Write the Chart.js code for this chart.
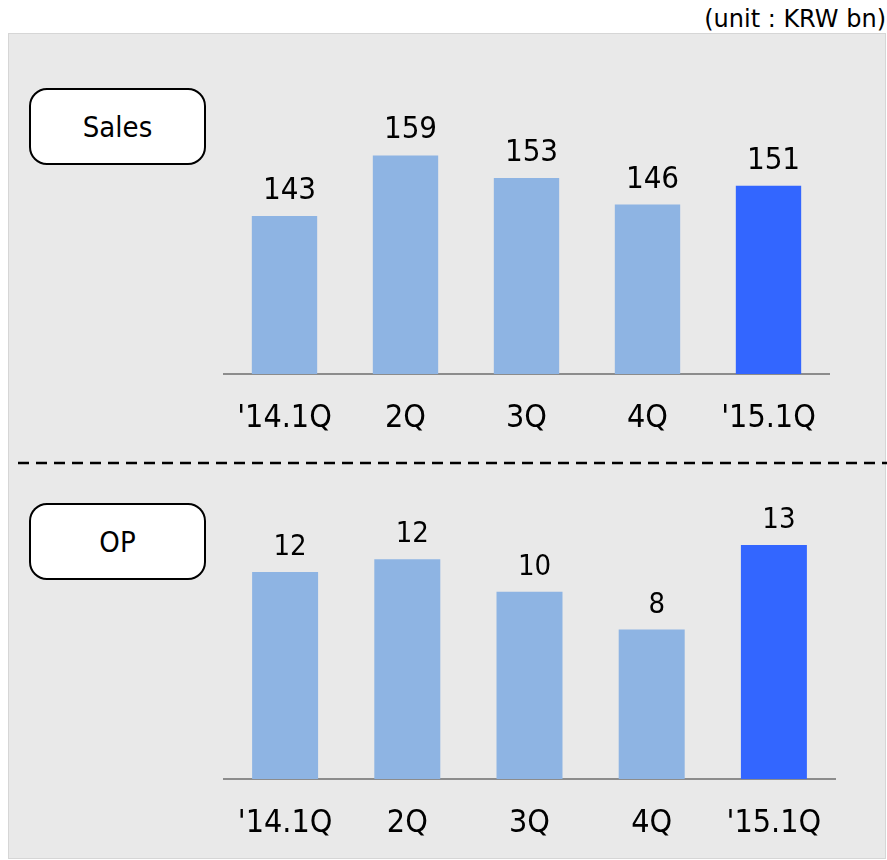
<!DOCTYPE html>
<html>
<head>
<meta charset="utf-8">
<script src="https://cdn.jsdelivr.net/npm/chart.js@4.4.1/dist/chart.umd.min.js"></script>
<style>
  body { margin: 0; background: #fff; font-family: "DejaVu Sans Condensed", "DejaVu Sans", sans-serif; }
  #stage { position: relative; width: 887px; height: 860px; overflow: hidden; }
  #panel { position: absolute; left: 8px; top: 33px; width: 876px; height: 824px; background: #e9e9e9; border: 1px solid #d6d6d6; }
  .unit { position: absolute; right: 1px; top: 5px; font-family: "DejaVu Sans", sans-serif; font-size: 24px; color: #000; white-space: nowrap; }
  .tag { position: absolute; left: 29px; width: 173px; height: 73px; background: #fff; border: 2px solid #000; border-radius: 18px;
         display: flex; align-items: center; justify-content: center; font-size: 29px; color: #000; }
  .box { position: absolute; }
  #divider { position: absolute; left: 18px; top: 460px; }
</style>
</head>
<body>
<div id="stage">
  <div id="panel"></div>
  <div class="unit">(unit : KRW bn)</div>
  <div class="tag" style="top:88px">Sales</div>
  <div class="tag" style="top:503px">OP</div>
  <svg id="divider" width="869" height="6"><line x1="0" y1="3" x2="869" y2="3" stroke="#000" stroke-width="2.5" stroke-dasharray="11,7"/></svg>
  <div class="box" style="left:200px;top:90px;width:650px;height:344px"><canvas id="sales"></canvas></div>
  <div class="box" style="left:200px;top:490px;width:660px;height:349px"><canvas id="op"></canvas></div>
</div>
<script>
const quarters = ["'14.1Q", "2Q", "3Q", "4Q", "'15.1Q"];
const salesValues = [143, 159, 153, 146, 151];
const opValues = [11.5, 12.2, 10.4, 8.3, 13.0];
const barColors = ["#8eb4e3", "#8eb4e3", "#8eb4e3", "#8eb4e3", "#3366ff"];

const FONT = '"DejaVu Sans Condensed", "DejaVu Sans", sans-serif';
Chart.defaults.font.family = FONT;
Chart.defaults.color = "#000";

// numbers above each bar
const valueLabels = {
  id: "valueLabels",
  afterDatasetsDraw(chart, args, opts) {
    const ctx = chart.ctx;
    const ds = chart.data.datasets[0];
    ctx.save();
    ctx.font = opts.size + "px " + FONT;
    ctx.fillStyle = "#000";
    ctx.textAlign = "center";
    ctx.textBaseline = "alphabetic";
    chart.getDatasetMeta(0).data.forEach((bar, i) => {
      ctx.fillText(Math.round(ds.data[i]), bar.x + 5, bar.y - opts.gap);
    });
    ctx.restore();
  },
};

function makeChart(id, values, yMin, yMax, pad, labelSize) {
  return new Chart(document.getElementById(id), {
    type: "bar",
    data: {
      labels: quarters,
      datasets: [{
        data: values,
        backgroundColor: barColors,
        borderWidth: 0,
        categoryPercentage: 1,
        barPercentage: 0.54,
      }],
    },
    options: {
      responsive: true,
      maintainAspectRatio: false,
      animation: false,
      events: [],
      layout: { padding: pad },
      plugins: {
        legend: { display: false },
        tooltip: { enabled: false },
        valueLabels: { size: labelSize, gap: 17 },
      },
      scales: {
        x: {
          grid: { display: false, drawTicks: false },
          border: { display: true, color: "#8c8c8c", width: 2 },
          ticks: { font: { size: 32 }, color: "#000", padding: 25, maxRotation: 0 },
          afterFit: s => { s.height = 60; },
        },
        y: { display: false, min: yMin, max: yMax },
      },
    },
    plugins: [valueLabels],
  });
}

makeChart("sales", salesValues, 101.2, 176.3, { left: 24, right: 21, top: 0, bottom: 0 }, 31);
makeChart("op", opValues, 0, 16.05, { left: 24, right: 25, top: 0, bottom: 0 }, 29);
</script>
</body>
</html>
